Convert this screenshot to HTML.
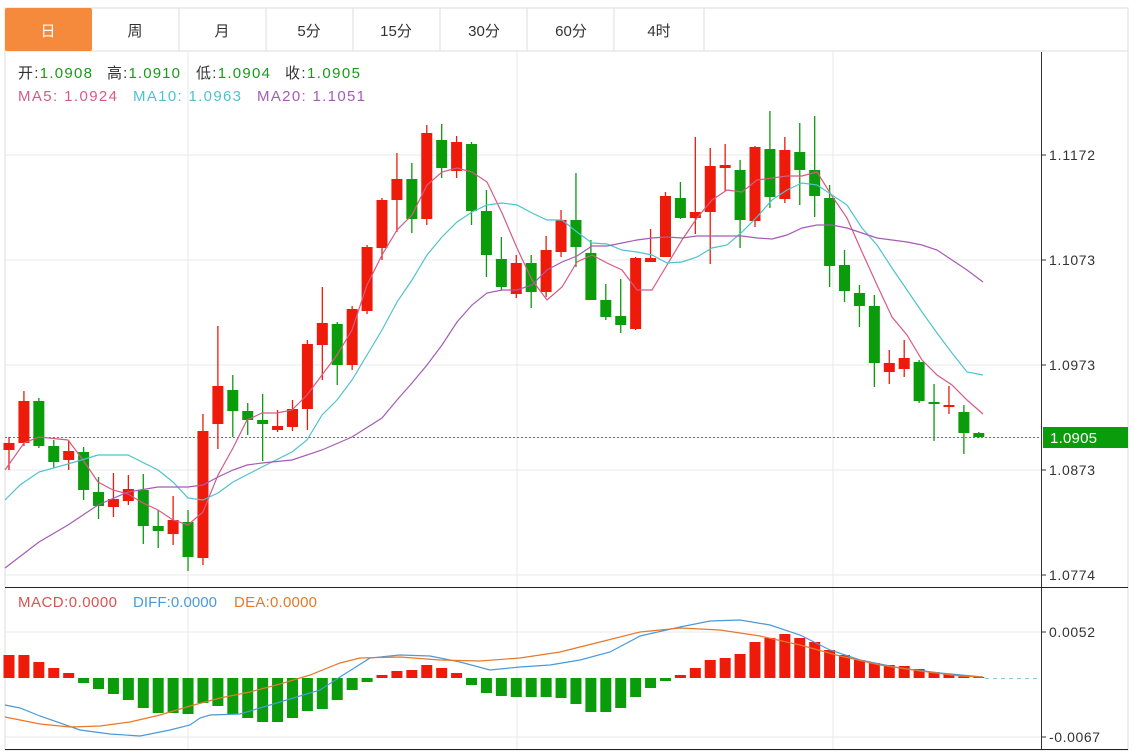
<!DOCTYPE html>
<html><head><meta charset="utf-8"><style>
body{margin:0;background:#fff;width:1134px;height:754px;overflow:hidden;font-family:"Liberation Sans","Noto Sans CJK SC",sans-serif}
svg{position:absolute;left:0;top:0}
</style></head><body>
<svg id="s" width="1134" height="754" xmlns="http://www.w3.org/2000/svg" font-family="Liberation Sans, Noto Sans CJK SC, sans-serif">
<rect x="5" y="8" width="1123" height="742" fill="#fff" stroke="#ddd"/>
<line x1="5" y1="51" x2="1128" y2="51" stroke="#ddd"/>
<rect x="5" y="8" width="87" height="43" fill="#f5893c" rx="2"/>
<g stroke="#ddd"><line x1="179" y1="8" x2="179" y2="51"/><line x1="266" y1="8" x2="266" y2="51"/><line x1="353" y1="8" x2="353" y2="51"/><line x1="440" y1="8" x2="440" y2="51"/><line x1="527" y1="8" x2="527" y2="51"/><line x1="614" y1="8" x2="614" y2="51"/><line x1="704" y1="8" x2="704" y2="51"/></g>
<g font-size="15" text-anchor="middle" fill="#333"><text x="48" y="36" fill="#fff">日</text><text x="135" y="36">周</text><text x="222" y="36">月</text><text x="309" y="36">5分</text><text x="396" y="36">15分</text><text x="484" y="36">30分</text><text x="571" y="36">60分</text><text x="659" y="36">4时</text></g>
<g stroke="#e8e8e8"><line x1="5" y1="155" x2="1041" y2="155"/><line x1="5" y1="260" x2="1041" y2="260"/><line x1="5" y1="365" x2="1041" y2="365"/><line x1="5" y1="470" x2="1041" y2="470"/><line x1="5" y1="575" x2="1041" y2="575"/><line x1="188" y1="51" x2="188" y2="750"/><line x1="517" y1="51" x2="517" y2="750"/><line x1="833" y1="51" x2="833" y2="750"/><line x1="5" y1="632" x2="1041" y2="632"/><line x1="5" y1="737" x2="1041" y2="737"/></g>
<line x1="1041.5" y1="52" x2="1041.5" y2="750" stroke="#333"/>
<line x1="5" y1="587.5" x2="1128" y2="587.5" stroke="#222"/>
<line x1="5" y1="749.5" x2="1128" y2="749.5" stroke="#222"/>
<g font-size="14" fill="#333"><text x="1049" y="160" textLength="46">1.1172</text><text x="1049" y="265" textLength="46">1.1073</text><text x="1049" y="370" textLength="46">1.0973</text><text x="1049" y="475" textLength="46">1.0873</text><text x="1049" y="580" textLength="46">1.0774</text><text x="1049" y="637" textLength="46">0.0052</text><text x="1049" y="742" textLength="51">-0.0067</text></g>
<g stroke="#333"><line x1="1041" y1="155" x2="1046" y2="155"/><line x1="1041" y1="260" x2="1046" y2="260"/><line x1="1041" y1="365" x2="1046" y2="365"/><line x1="1041" y1="470" x2="1046" y2="470"/><line x1="1041" y1="575" x2="1046" y2="575"/><line x1="1041" y1="632" x2="1046" y2="632"/><line x1="1041" y1="737" x2="1046" y2="737"/></g>
<line x1="5" y1="437.5" x2="1041" y2="437.5" stroke="#2aa52a" stroke-dasharray="2,2"/>
<rect x="1043" y="427" width="85" height="21" fill="#0a9c0a"/>
<text x="1050" y="443" font-size="15" fill="#fff" textLength="47">1.0905</text>
<line x1="985" y1="678.5" x2="1041" y2="678.5" stroke="#8cc" stroke-dasharray="4,4"/>
<g font-size="15"><text x="18" y="78" fill="#333" textLength="74">开:<tspan fill="#1a9a1a">1.0908</tspan></text><text x="107" y="78" fill="#333" textLength="73">高:<tspan fill="#1a9a1a">1.0910</tspan></text><text x="196" y="78" fill="#333" textLength="74">低:<tspan fill="#1a9a1a">1.0904</tspan></text><text x="285" y="78" fill="#333" textLength="75">收:<tspan fill="#1a9a1a">1.0905</tspan></text>
<text x="18" y="101" fill="#d75a84" textLength="99">MA5: 1.0924</text><text x="133" y="101" fill="#4fc2cf" textLength="108">MA10: 1.0963</text><text x="257" y="101" fill="#a65bb5" textLength="108">MA20: 1.1051</text>
<text x="18" y="607" fill="#d9534f" textLength="99">MACD:0.0000</text><text x="133" y="607" fill="#4a9ad8" textLength="84">DIFF:0.0000</text><text x="234" y="607" fill="#e8782a" textLength="83">DEA:0.0000</text></g>
<g id="c"></g>
</svg>
<script>
var C=[[443,450,437,470,'r'],[401,443,391,446,'r'],[401,446,398,448,'g'],[446,462,440,468,'g'],[451,460,440,470,'r'],[452,490,447,500,'g'],[492,506,477,519,'g'],[499,507,473,517,'r'],[489,501,475,505,'r'],[490,526,474,544,'g'],[526,531,510,548,'g'],[520,534,496,545,'r'],[522,557,510,571,'g'],[431,558,414,565,'r'],[386,424,326,449,'r'],[390,411,375,437,'g'],[411,420,403,435,'g'],[420,424,394,461,'g'],[426,430,410,432,'r'],[409,427,400,431,'r'],
[344,409,340,430,'r'],[323,345,287,380,'r'],[324,365,322,385,'g'],[309,365,306,370,'r'],[247,311,245,314,'r'],[200,248,198,260,'r'],[179,200,153,232,'r'],[179,219,163,233,'g'],[133,219,125,225,'r'],[140,168,124,178,'g'],[142,171,136,178,'r'],[144,211,142,225,'g'],[211,255,190,277,'g'],[259,287,237,290,'g'],[263,294,255,298,'r'],[263,292,255,308,'g'],[250,292,236,297,'r'],[220,252,210,257,'r'],[220,247,173,267,'g'],[253,300,240,300,'g'],[300,317,284,320,'g'],[316,325,279,333,'g'],[258,329,257,330,'r'],[258,262,229,262,'r'],[196,257,192,257,'r'],[198,218,182,219,'g'],
[212,218,137,234,'r'],[166,212,148,264,'r'],[165,168,144,191,'r'],[170,220,160,248,'g'],[147,221,146,227,'r'],[149,197,111,208,'g'],[150,199,137,203,'r'],[152,170,123,205,'g'],[170,196,116,217,'g'],[198,266,185,287,'g'],[265,291,250,302,'g'],[293,306,285,327,'g'],[306,363,295,387,'g'],[363,372,350,384,'r'],[358,369,340,377,'r'],[362,401,360,403,'g'],[402,404,384,441,'g'],[405,407,386,414,'r'],[412,433,405,454,'g'],[433,437,432,438,'g']];
var H=[655,655,662,668,673,683,689,694,700,708,713,713,714,703,706,714,718,722,722,718,711,709,700,690,682,675,671,670,665,668,673,685,693,696,697,697,697,698,704,712,712,708,697,688,681,675,668,660,658,654,642,638,634,638,642,650,655,660,663,665,666,669,672,674,676,677];
var s='',R='#ee1a0a',G='#0a9c0a';
function X(i){return 9+i*14.92;}
C.forEach(function(c,i){var x=X(i),col=c[4]=='r'?R:G;
s+='<line x1="'+x+'" y1="'+c[2]+'" x2="'+x+'" y2="'+c[3]+'" stroke="'+col+'" stroke-width="1.3"/>';
s+='<rect x="'+(x-5.5)+'" y="'+c[0]+'" width="11" height="'+Math.max(2,c[1]-c[0])+'" fill="'+col+'"/>';});
H.forEach(function(h,i){var x=X(i),z=678;var col=h<z?R:G;var y=Math.min(h,z),hh=Math.abs(h-z);if(hh<1)hh=1;
s+='<rect x="'+(x-5.5)+'" y="'+y+'" width="11" height="'+hh+'" fill="'+col+'"/>';});
function pl(p,c){return '<polyline fill="none" stroke="'+c+'" stroke-width="1.2" points="'+p+'"/>';}
s+=pl('5,470 24,443 39,437 68,440 83,460 98,482 113,490 128,494 143,503 158,510 173,520 188,525 203,512 218,475 233,448 247,420 262,413 277,413 292,410 307,395 322,375 337,355 352,330 367,285 382,255 397,230 412,215 427,185 442,172 457,168 472,172 487,182 502,213 517,248 532,280 547,300 562,287 577,262 592,255 607,263 622,270 637,290 652,290 667,265 682,240 697,218 712,200 727,190 742,192 757,180 772,178 787,176 802,176 817,172 832,196 847,218 862,252 877,285 892,317 907,335 922,360 937,375 952,385 967,400 983,414','#d75a84');
s+=pl('5,500 20,485 39,472 68,464 98,455 128,455 158,470 173,482 188,498 203,500 218,493 233,482 262,467 292,452 307,440 322,415 337,400 352,380 367,355 382,330 397,302 412,280 427,255 442,237 457,222 472,212 487,205 502,203 517,205 532,213 547,220 562,220 577,232 592,243 607,244 622,250 637,252 652,255 667,263 682,262 697,257 712,248 727,245 742,232 757,217 772,200 787,190 802,183 817,185 832,195 847,205 862,228 877,245 892,268 907,290 922,312 937,333 952,353 967,372 983,375','#4fc2cf');
s+=pl('5,568 39,542 68,525 98,505 128,492 158,487 188,487 203,485 218,477 233,470 247,465 262,463 292,460 322,450 352,437 382,418 397,400 412,383 427,365 442,345 457,322 472,305 487,293 502,290 517,290 532,285 547,270 562,262 577,256 592,246 607,246 622,243 637,240 652,238 667,237 682,238 697,236 727,236 742,236 757,238 772,239 787,235 802,228 817,225 832,225 847,228 862,233 877,238 892,240 907,242 922,245 937,250 952,260 967,270 983,282','#a65bb5');
s+=pl('5,705 20,708 40,716 80,730 110,734 140,736 170,730 190,725 200,718 210,715 240,714 260,708 290,699 320,690 340,677 370,658 400,655 430,656 460,662 490,670 520,667 550,665 580,660 610,652 640,636 680,627 710,621 740,620 770,625 800,635 830,650 860,660 900,668 940,673 983,677','#4a9ad8');
s+=pl('5,717 40,724 70,727 100,726 130,722 160,715 190,706 220,698 250,692 280,684 310,675 340,663 360,658 400,657 440,660 480,661 520,658 560,652 600,642 640,632 680,628 720,630 760,636 800,645 840,656 880,665 920,671 960,676 983,677','#e8782a');
document.getElementById('c').innerHTML=s;
</script>
</body></html>
